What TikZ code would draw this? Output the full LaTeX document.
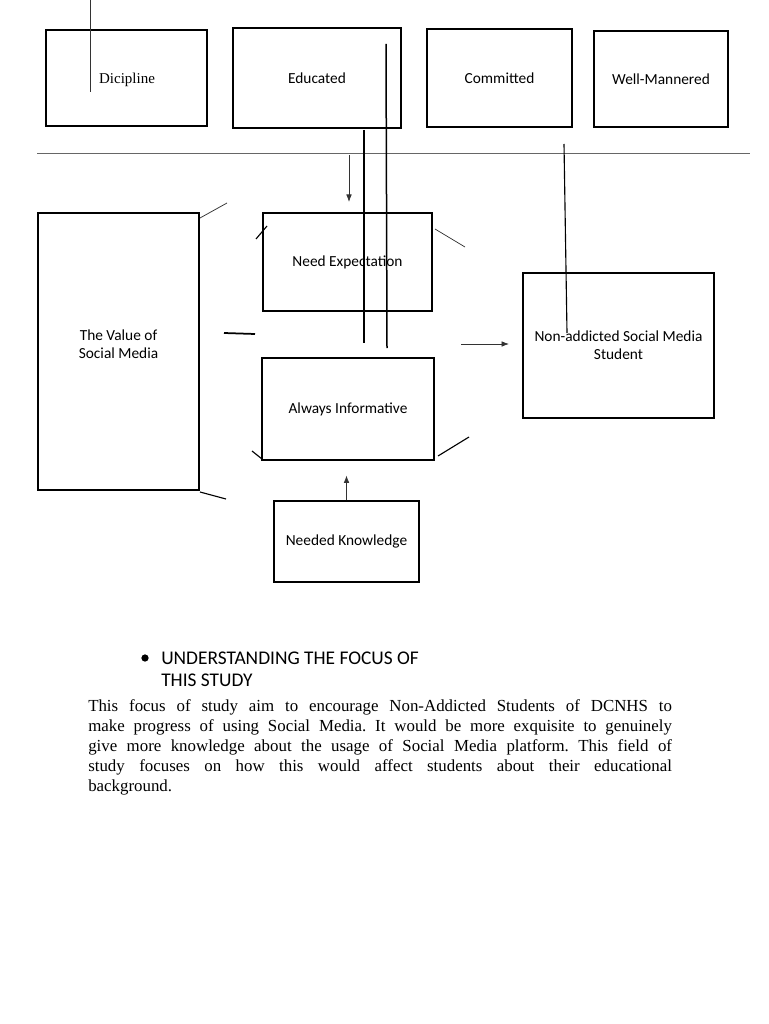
\documentclass[tikz,border=0pt]{standalone}
\usepackage{fontspec}
\setmainfont{Liberation Serif}
\newfontfamily\calibri{Carlito}
\usepackage{tikz}
\usetikzlibrary{arrows.meta}

\tikzset{
  box/.style 2 args={draw, line width=0.9pt, minimum width=#1*0.8pt, minimum height=#2*0.8pt,
    inner sep=0pt, align=center, font=\calibri\fontsize{12.3}{14.5}\selectfont},
  stroke/.style={line width=0.9pt},
  hair/.style={line width=0.6pt, black!80},
}

\begin{document}
\begin{tikzpicture}[x=0.8pt, y=-0.8pt, >={Latex[length=6pt,width=4.5pt]}]
        \useasboundingbox (0,0) rectangle (768,1024);
        % top row
        \node[box={161}{96}] (dicip) at (126.5,78) {};                                                  %
        \node[font=\fontsize{12}{14}\selectfont] (diciptxt) at (127,80) {Dicipline};                    %
        \node[box={168}{100}] (educ)  at (317,78)    {Educated};                                        %
        \node[box={145}{98}]  (comm)  at (499.5,78)  {Committed};                                       %
        \node[box={134}{96}]  (manner) at (661,79)   {Well-Mannered};                                   %
        \draw [line width=0.8pt, black!60] (37,154) -- (750,154);                                       % divider
        % middle
        \node[box={161}{277}] (value) at (118.5,351.5) {};                                              %
        \node[font=\calibri\fontsize{12.3}{14.5}\selectfont, align=center] (valtxt) at (118.5,344) {The Value of\\Social Media};
        \node[box={169}{98}]  (needexp) at (347.5,262) {Need Expectation};                              %
        \node[box={172}{102}] (inform)  at (348,409)   {Always Informative};                            %
        \node[box={145}{81}]  (know)    at (346.5,541.5) {Needed Knowledge};                            %
        \node[box={191}{145}] (nonadd)  at (618.5,345.5) {Non-addicted Social Media\\Student};         %
        % arrows
        \coordinate (arrtop) at (349,155);
        \draw [hair, ->]   (arrtop) -- (349,202);                                                       %
        \draw [hair, ->]   (know.north) -- ++(0,-25);                                                   %
        \coordinate (arrmid) at (461,344);
        \draw [hair, ->]   (arrmid) -- (509,344);                                                       %
        % long lines
        \draw [hair]       (90,0) -- (90,92);                                                           %
        \draw [line width=1.2pt] (386,44) -- (387,348);                                                 %
        \draw [stroke]     (364,130) -- (364,343);                                                      %
        \draw [stroke]     (564,144) -- (567,333);                                                      %
        % loose strokes
        \draw [hair]       (200,218) -- (227,203);                                                      %
        \draw [stroke]     (256,239) -- (267,226);                                                      %
        \draw [hair]       (435,229) -- (465,247);                                                      %
        \draw [line width=1.4pt] (224,333) -- (255,334);                                                %
        \draw [stroke]     (252,451) -- (262,459);                                                      %
        \draw [stroke]     (438,456) -- (469,437);                                                      %
        \draw [stroke]     (200,492) -- (226,499);                                                      %
        % text
        \node[circle, fill, inner sep=0pt, minimum size=5.8pt] (dot) at (145,658) {};                   %
        \node[anchor=north west, align=left, inner sep=0pt, font=\calibri\fontsize{15.5}{17.6}\selectfont]
             (focus) at (161,652) {UNDERSTANDING THE FOCUS OF\\THIS STUDY};
        \node[anchor=north west, text width=467pt, align=justify, inner sep=0pt, font=\fontsize{13.5}{16}\selectfont\frenchspacing]
             (para) at (88,699) {This focus of study aim to encourage Non-Addicted Students of DCNHS to\linebreak
             make progress of using Social Media. It would be more exquisite to genuinely\linebreak
             give more knowledge about the usage of Social Media platform. This field of\linebreak
             study focuses on how this would affect students about their educational\linebreak
             background.};
      \end{tikzpicture}
\end{document}
